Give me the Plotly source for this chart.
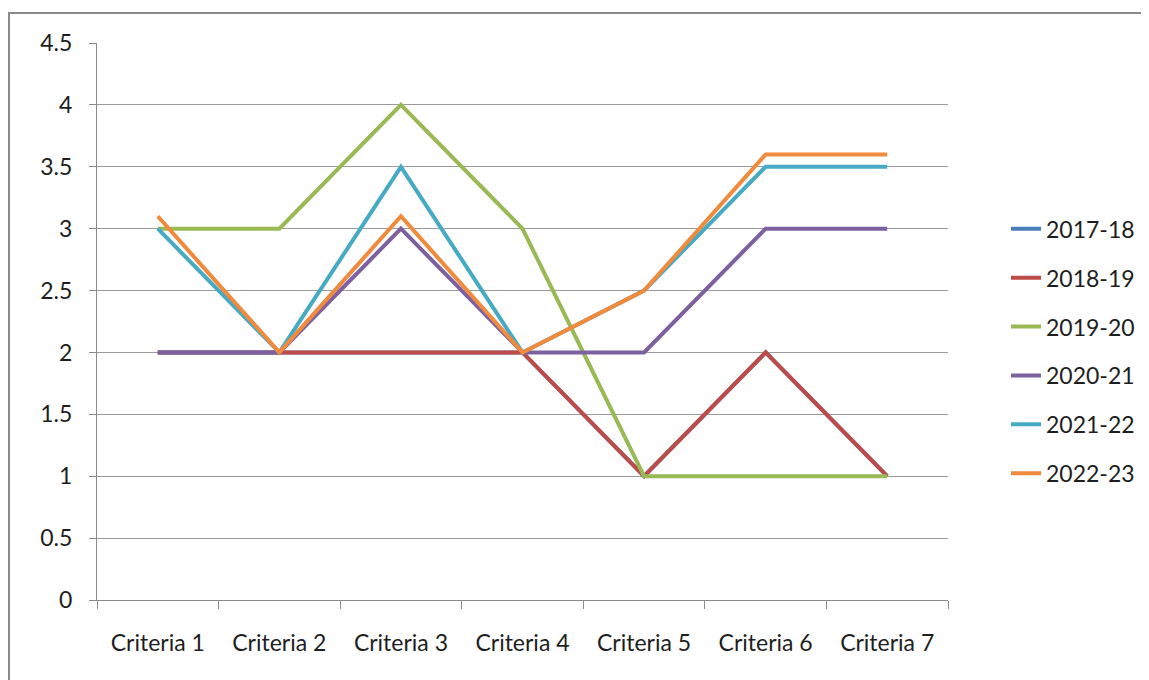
import plotly.graph_objects as go

categories = ["Criteria 1", "Criteria 2", "Criteria 3", "Criteria 4", "Criteria 5", "Criteria 6", "Criteria 7"]
s2017_18 = [2, 2, 2, 2, 1, 2, 1]
s2018_19 = [2, 2, 2, 2, 1, 2, 1]
s2019_20 = [3, 3, 4, 3, 1, 1, 1]
s2020_21 = [2, 2, 3, 2, 2, 3, 3]
s2021_22 = [3, 2, 3.5, 2, 2.5, 3.5, 3.5]
s2022_23 = [3.1, 2, 3.1, 2, 2.5, 3.6, 3.6]
series_names = ["2017-18", "2018-19", "2019-20", "2020-21", "2021-22", "2022-23"]
series_values = [s2017_18, s2018_19, s2019_20, s2020_21, s2021_22, s2022_23]
colors = ["#4A7EBB", "#BE4B48", "#98B954", "#7D60A0", "#46AAC5", "#F08A3C"]
y_ticks = [0, 0.5, 1, 1.5, 2, 2.5, 3, 3.5, 4, 4.5]
y_tick_labels = ["0", "0.5", "1", "1.5", "2", "2.5", "3", "3.5", "4", "4.5"]

# page has an 8px body margin; figure sized to fit inside the window
OFF = 8
W, H = 1149 - OFF, 680 - OFF
ML, MT = 97 - OFF, 43 - OFF
PW, PH = 851, 557
MR, MB = W - ML - PW, H - MT - PH
FONT = "Lato, 'Open Sans', sans-serif"
FS = 23
TXT = "#1E1E1E"

fig = go.Figure()
for name, vals, col in zip(series_names, series_values, colors):
    fig.add_trace(go.Scatter(
        x=categories, y=vals, name=name, mode="lines",
        line=dict(color=col, width=4), legendgroup=name,
    ))

# outer chart border (extends past right/bottom edges like the reference)
fig.add_shape(type="rect", xref="paper", yref="paper",
              x0=(9 - OFF - ML) / PW, x1=(W + 20 - ML) / PW,
              y0=-(H + 20 - MT - PH) / PH, y1=(MT - (13 - OFF)) / PH + 1,
              line=dict(color="#8A8A8A", width=2), fillcolor="rgba(0,0,0,0)", layer="below")

fig.update_layout(
    width=W, height=H,
    margin=dict(l=ML, r=MR, t=MT, b=MB, autoexpand=False),
    paper_bgcolor="white", plot_bgcolor="white",
    font=dict(family=FONT, size=FS, color=TXT),
    showlegend=True,
    legend=dict(x=(1006 - OFF - ML) / PW, xanchor="left", y=0.705, yanchor="top",
                font=dict(size=FS, color=TXT),
                tracegroupgap=16, itemwidth=30, bgcolor="rgba(0,0,0,0)"),
    xaxis=dict(
        type="category", range=[-0.5, 6.5], tickson="boundaries",
        showgrid=False, showline=True, linecolor="#8A8A8A", linewidth=1,
        ticks="outside", ticklen=8, tickcolor="#8A8A8A",
        ticklabelstandoff=22, tickfont=dict(size=FS, color=TXT),
        zeroline=False,
    ),
    yaxis=dict(
        range=[0, 4.5], tickvals=y_ticks, ticktext=y_tick_labels,
        showgrid=True, gridcolor="#9A9A9A", gridwidth=1,
        showline=True, linecolor="#8A8A8A", linewidth=1,
        ticks="outside", ticklen=7, tickcolor="#8A8A8A",
        ticklabelstandoff=12, tickfont=dict(size=FS, color=TXT),
        zeroline=False,
    ),
)

fig.write_html("out.html")
